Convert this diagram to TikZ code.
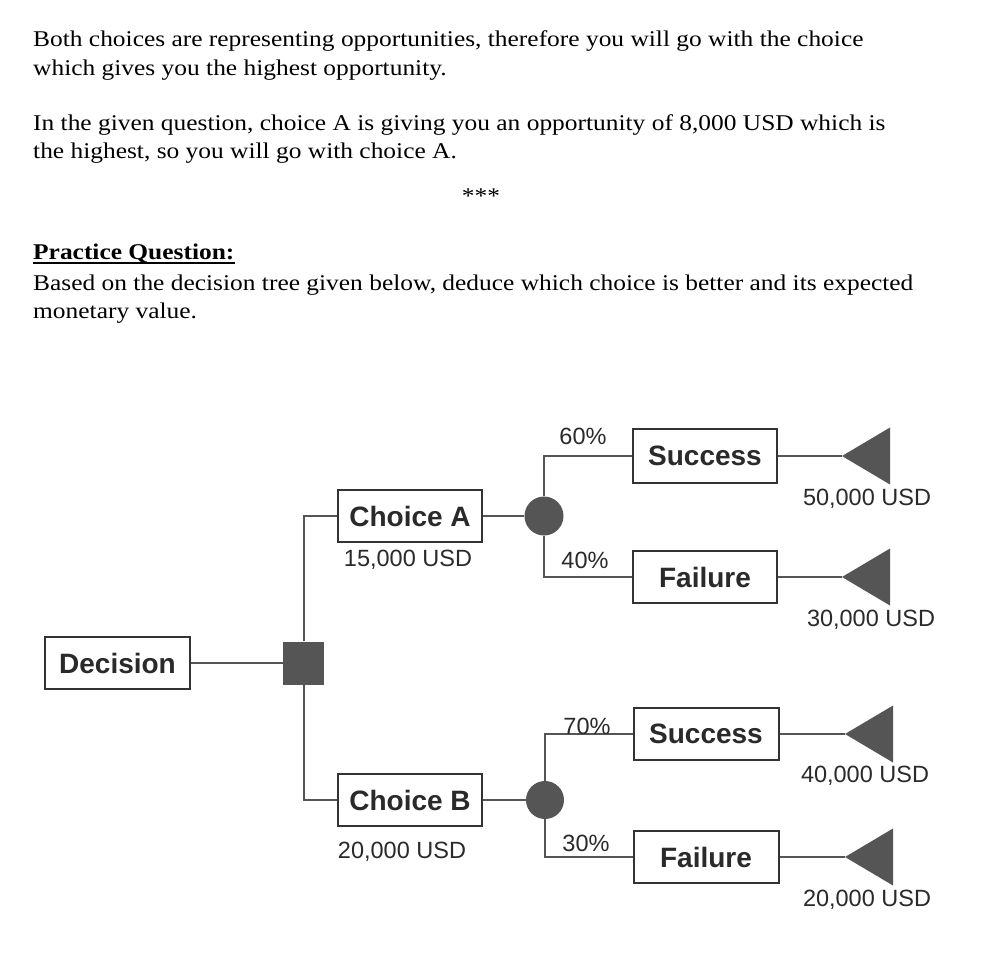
\documentclass[tikz,border=0pt]{standalone}
\usepackage{fontspec}
\setmainfont[FakeStretch=1.13]{Liberation Serif}
\newfontfamily\arialf{Liberation Sans}
\usetikzlibrary{shapes.geometric}
\definecolor{shp}{HTML}{555555}
\definecolor{ln}{HTML}{555555}
\definecolor{bd}{HTML}{333333}
\definecolor{lbl}{HTML}{2A2A2A}
\begin{document}
\begin{tikzpicture}[x=1pt,y=-1pt,
  body/.style={anchor=base west, inner sep=0, font=\fontsize{22.5}{27}\selectfont},
  box/.style={draw=bd, line width=2pt, fill=white, minimum width=144, minimum height=52, inner sep=0,
    font=\arialf\bfseries\fontsize{28}{30}\selectfont, text=lbl},
  val/.style={anchor=base, inner sep=0, font=\arialf\fontsize{23.5}{26}\selectfont, text=lbl},
  conn/.style={draw=ln, line width=2pt},
  chance/.style={ellipse, fill=shp, minimum width=39, minimum height=39, inner sep=0},
  decsq/.style={rectangle, fill=shp, minimum width=41, minimum height=43, inner sep=0},
  endtri/.style={fill=shp}
]
\useasboundingbox (0,0) rectangle (990,966);
\fill[white] (0,0) rectangle (990,966);

% ---- text ----
\node[body] (t1) at (33,47) {Both choices are representing opportunities, therefore you will go with the choice};
\node[body] (t2) at (33,75) {which gives you the highest opportunity.};
\node[body] (t3) at (33,130) {In the given question, choice A is giving you an opportunity of 8,000 USD which is};
\node[body] (t4) at (33,158) {the highest, so you will go with choice A.};
\node[anchor=base, inner sep=0, font=\fontsize{22.5}{27}\selectfont] (stars) at (481,203) {***};
\node[body, font=\bfseries\fontsize{22.5}{27}\selectfont] (pq) at (33,259) {Practice Question:};
\draw[line width=1.5pt] ([yshift=-4pt]pq.base west) -- ([yshift=-4pt]pq.base east);
\node[body] (t5) at (33,290) {Based on the decision tree given below, deduce which choice is better and its expected};
\node[body] (t6) at (33,318.5) {monetary value.};

% ---- nodes ----
\node[box, minimum width=145] (dec) at (117.5,663) {Decision};
\node[decsq] (sq) at (303.5,663) {};
\node[box] (chA) at (410,516) {Choice A};
\node[chance] (cA) at (544,516) {};
\node[box, minimum height=54] (sA) at (705,456) {Success};
\node[box] (fA) at (705,577) {Failure};
\node[box] (chB) at (410,800) {Choice B};
\node[chance, minimum width=38, minimum height=38] (cB) at (545,800) {};
\node[box, minimum width=145] (sB) at (706,734) {Success};
\node[box, minimum width=145] (fB) at (706,857) {Failure};

\coordinate (eA1) at (842,456);
\coordinate (eA2) at (842,577);
\coordinate (eB1) at (845,734);
\coordinate (eB2) at (845,857);
\foreach \c in {eA1,eA2,eB1,eB2}{
  \fill[endtri] (\c) -- ++(48,-28.5) -- ++(0,57) -- cycle;
}

% ---- connectors ----
\draw[conn] (dec.east) -- (sq.west);
\draw[conn] (sq.north) |- (chA.west);
\draw[conn] (sq.south) |- (chB.west);
\draw[conn] (chA.east) -- (cA.west);
\draw[conn] (chB.east) -- (cB.west);
\draw[conn] (cA.north) |- (sA.west);
\draw[conn] (cA.south) |- (fA.west);
\draw[conn] (cB.north) |- (sB.west);
\draw[conn] (cB.south) |- (fB.west);
\draw[conn] (sA.east) -- (eA1);
\draw[conn] (fA.east) -- (eA2);
\draw[conn] (sB.east) -- (eB1);
\draw[conn] (fB.east) -- (eB2);

% ---- labels ----
\node[val] (vA) at (408,566.5) {15,000 USD};
\node[val] (vB) at (402,858.5) {20,000 USD};
\node[val] (p60) at (583,444.5) {60\%};
\node[val] (p40) at (585,568.5) {40\%};
\node[val] (p70) at (587,734) {70\%};
\node[val] (p30) at (586,851.5) {30\%};
\node[val] (o1) at (867,505.5) {50,000 USD};
\node[val] (o2) at (871,626.5) {30,000 USD};
\node[val] (o3) at (865,782.5) {40,000 USD};
\node[val] (o4) at (867,906.5) {20,000 USD};
\end{tikzpicture}
\end{document}
